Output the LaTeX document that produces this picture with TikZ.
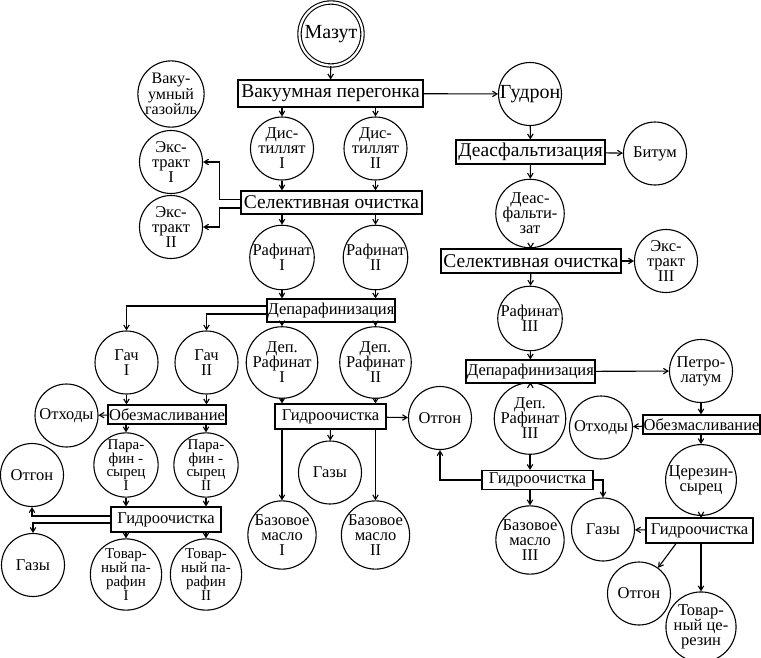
\documentclass[tikz,border=0pt]{standalone}
\usepackage{fontspec}
\setmainfont{Liberation Serif}
\usepackage{tikz}
\usetikzlibrary{shapes,arrows,positioning,calc,arrows.meta}

\begin{document}
\begin{tikzpicture}[x=1pt, y=-1pt,
    arr/.style={-{Straight Barb[length=4.5pt,width=5.5pt]}, line width=1.1pt},
    stage/.style={circle, draw, line width=1.1pt, minimum size=63pt, inner sep=0pt,
        align=center, font=\fontsize{16.5}{15}\selectfont},
    tight/.style={font=\fontsize{15}{13.8}\selectfont},
    bigbox/.style={draw, line width=1.1pt, inner sep=0pt, font=\fontsize{19.5}{19}\selectfont},
    smallbox/.style={draw, line width=1.1pt, inner sep=0pt, font=\fontsize{16.5}{16}\selectfont}]
    \useasboundingbox (0,0) rectangle (761,657);
    % Feed and vacuum distillation
    \node[stage, double, double distance=2.2pt, font=\fontsize{20}{19}\selectfont] (mazut) at (331,34) {Мазут};
    \node[bigbox, minimum width=185pt, minimum height=27pt] (vac) at (330.5,93.5) {Вакуумная перегонка};
    \node[stage, font=\fontsize{16}{13.5}\selectfont] (vgo) at (171,94) {Ваку-\\умный\\газойль};
    \node[stage] (dist1) at (282,148.5) {Дис-\\тиллят\\I};
    \node[stage] (dist2) at (375.5,148.5) {Дис-\\тиллят\\II};
    % Selective treatment of distillates
    \node[bigbox, minimum width=181pt, minimum height=23pt] (sel1) at (331.5,202.5) {Селективная очистка};
    \node[stage] (ex1) at (171,162) {Экс-\\тракт\\I};
    \node[stage] (ex2) at (171,227) {Экс-\\тракт\\II};
    \node[stage] (raf1) at (282,257.5) {Рафинат\\I};
    \node[stage] (raf2) at (375.5,257.5) {Рафинат\\II};
    % Dewaxing of raffinates
    \node[smallbox, minimum width=128pt, minimum height=23pt] (dep1) at (331,310.5) {Депарафинизация};
    \node[stage] (gach1) at (126.5,362.5) {Гач\\I};
    \node[stage] (gach2) at (206.5,362.5) {Гач\\II};
    \node[stage] (drf1) at (282,362.5) {Деп.\\Рафинат\\I};
    \node[stage] (drf2) at (375.5,362.5) {Деп.\\Рафинат\\II};
    % Paraffin branch
    \node[smallbox, minimum width=118pt, minimum height=19pt] (obez1) at (167,414.5) {Обезмасливание};
    \node[stage] (oth1) at (66.5,415.5) {Отходы};
    \node[stage, tight] (par1) at (126,465) {Пара-\\фин -\\сырец\\I};
    \node[stage, tight] (par2) at (206,465) {Пара-\\фин -\\сырец\\II};
    \node[smallbox, minimum width=110pt, minimum height=25pt] (hyd1) at (166,519.5) {Гидроочистка};
    \node[stage] (otg1) at (32,475) {Отгон};
    \node[stage] (gaz1) at (33,565) {Газы};
    \node[stage, tight] (tov1) at (126,574.5) {Товар-\\ный па-\\рафин\\I};
    \node[stage, tight] (tov2) at (206,574.5) {Товар-\\ный па-\\рафин\\II};
    % Base oils I and II
    \node[smallbox, minimum width=111pt, minimum height=25pt] (hyd2) at (330.5,416.5) {Гидроочистка};
    \node[stage] (otg2) at (440,418) {Отгон};
    \node[stage] (gaz2) at (330,472.5) {Газы};
    \node[stage] (bm1) at (282,535) {Базовое\\масло\\I};
    \node[stage] (bm2) at (375.5,535) {Базовое\\масло\\II};
    % Tar branch
    \node[stage, font=\fontsize{20}{19}\selectfont] (gud) at (530,94) {Гудрон};
    \node[bigbox, minimum width=149pt, minimum height=24pt] (deas) at (530.5,152) {Деасфальтизация};
    \node[stage] (bit) at (655,153.5) {Битум};
    \node[stage] (dsz) at (530,213.5) {Деас-\\фальти-\\зат};
    \node[bigbox, minimum width=180pt, minimum height=24pt] (sel3) at (531,261) {Селективная очистка};
    \node[stage] (ex3) at (666,261) {Экс-\\тракт\\III};
    \node[stage] (raf3) at (530,318.5) {Рафинат\\III};
    \node[smallbox, minimum width=129pt, minimum height=23pt] (dep3) at (530.5,371.5) {Депарафинизация};
    \node[stage] (pet) at (701,371) {Петро-\\латум};
    \node[stage] (drf3) at (530,418.5) {Деп.\\Рафинат\\III};
    \node[smallbox, minimum width=111pt, minimum height=19pt] (hyd3) at (537.5,480) {Гидроочистка};
    \node[stage] (bm3) at (530,540) {Базовое\\масло\\III};
    % Ceresin branch
    \node[smallbox, minimum width=117pt, minimum height=19pt] (obez3) at (701.5,424.5) {Обезмасливание};
    \node[stage] (oth3) at (601,427.5) {Отходы};
    \node[stage] (cer) at (701,480) {Церезин-\\сырец};
    \node[smallbox, minimum width=107pt, minimum height=25pt] (hyd4) at (699.5,530.5) {Гидроочистка};
    \node[stage] (gaz3) at (603,529.5) {Газы};
    \node[stage] (otg4) at (639,593.5) {Отгон};
    \node[stage] (tov3) at (701,627) {Товар-\\ный це-\\резин};

    % Connectors, left part
    \draw[arr] (mazut) -- (vac);
    \draw[arr] (vac.south -| dist1) -- (dist1);
    \draw[arr] (vac.south -| dist2) -- (dist2);
    \draw[arr] (dist1) -- (dist1 |- sel1.north);
    \draw[arr] (dist2) -- (dist2 |- sel1.north);
    \draw[arr] ([yshift=3pt]sel1.west) -| ([xshift=16pt]ex1.east) -- (ex1.east);
    \draw[arr] ([yshift=-5.5pt]sel1.west) -| ([xshift=16pt]ex2.east) -- (ex2.east);
    \draw[arr] (sel1.south -| raf1) -- (raf1);
    \draw[arr] (sel1.south -| raf2) -- (raf2);
    \draw[arr] (raf1) -- (raf1 |- dep1.north);
    \draw[arr] (raf2) -- (raf2 |- dep1.north);
    \draw[arr] ([yshift=4.5pt]dep1.west) -| (gach1.north);
    \draw[arr] ([yshift=-3.5pt]dep1.west) -| (gach2.north);
    \draw[arr] (dep1.south -| drf1) -- (drf1);
    \draw[arr] (dep1.south -| drf2) -- (drf2);
    \draw[arr] (gach1) -- (gach1 |- obez1.north);
    \draw[arr] (gach2) -- (gach2 |- obez1.north);
    \draw[arr] (obez1) -- (oth1);
    \draw[arr] (obez1.south -| par1) -- (par1);
    \draw[arr] (obez1.south -| par2) -- (par2);
    \draw[arr] (par1) -- (par1 |- hyd1.north);
    \draw[arr] (par2) -- (par2 |- hyd1.north);
    \draw[arr] ([yshift=3.5pt]hyd1.west) -| (otg1.south);
    \draw[arr] ([yshift=-3.5pt]hyd1.west) -| (gaz1.north);
    \draw[arr] (hyd1.south -| tov1) -- (tov1);
    \draw[arr] (hyd1.south -| tov2) -- (tov2);
    \draw[arr] (drf1) -- (drf1 |- hyd2.north);
    \draw[arr] (drf2) -- (drf2 |- hyd2.north);
    \draw[arr] (hyd2) -- (otg2);
    \draw[arr] (hyd2) -- (gaz2);
    \draw[arr] (hyd2.south -| bm1) -- (bm1);
    \draw[arr] (hyd2.south -| bm2) -- (bm2);
    % Connectors, right part
    \draw[arr] (vac) -- (gud);
    \draw[arr] (gud) -- (deas);
    \draw[arr] (deas) -- (bit);
    \draw[arr] (deas) -- (dsz);
    \draw[arr] (dsz) -- (sel3);
    \draw[arr] (sel3) -- (ex3);
    \draw[arr] (sel3) -- (raf3);
    \draw[arr] (raf3) -- (dep3);
    \draw[arr] (dep3) -- (pet);
    \draw[arr] (dep3) -- (drf3);
    \draw[arr] (drf3) -- (drf3 |- hyd3.north);
    \draw[arr] (hyd3.south -| bm3) -- (bm3);
    \draw[arr] (hyd3.west) -| (otg2.south);
    \draw[arr] (hyd3.east) -| (gaz3.north);
    \draw[arr] (pet) -- (pet |- obez3.north);
    \draw[arr] (obez3) -- (oth3);
    \draw[arr] (obez3.south -| cer) -- (cer);
    \draw[arr] (cer) -- (cer |- hyd4.north);
    \draw[arr] (hyd4) -- (gaz3);
    \draw[arr] ([xshift=-23.5pt]hyd4.south) -- (otg4);
    \draw[arr] (hyd4.south -| tov3) -- (tov3);
\end{tikzpicture}
\end{document}
